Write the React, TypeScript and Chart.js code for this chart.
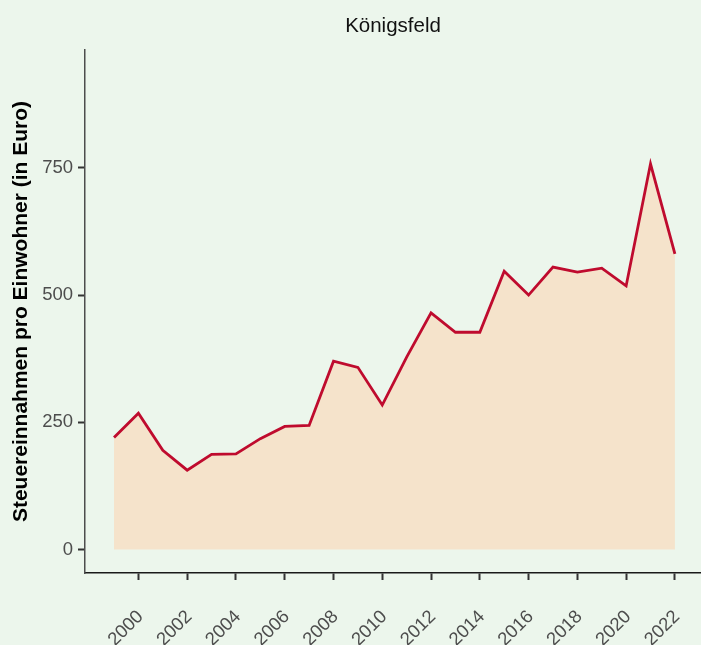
import React, { useEffect, useRef } from 'react';
import { Chart, registerables } from 'chart.js';

Chart.register(...registerables);

const years = [1999, 2000, 2001, 2002, 2003, 2004, 2005, 2006, 2007, 2008, 2009, 2010, 2011, 2012, 2013, 2014, 2015, 2016, 2017, 2018, 2019, 2020, 2021, 2022];
const values = [220, 268, 195, 156, 187, 188, 218, 242, 244, 370, 358, 284, 378, 465, 427, 427, 547, 500, 555, 545, 553, 518, 758, 581];
const xTickYears = [2000, 2002, 2004, 2006, 2008, 2010, 2012, 2014, 2016, 2018, 2020, 2022];
const yTickValues = [0, 250, 500, 750];
const chartTitle = 'Königsfeld';
const yAxisTitle = 'Steuereinnahmen pro Einwohner (in Euro)';

const BG = '#ECF6EC';
const FONT = '"Liberation Sans", Arial, Helvetica, sans-serif';

export default function App() {
  const ref = useRef<HTMLCanvasElement | null>(null);

  useEffect(() => {
    if (!ref.current) return;
    const bgPlugin = {
      id: 'bgFill',
      beforeDraw(chart: any) {
        const ctx = chart.ctx;
        ctx.save();
        ctx.fillStyle = BG;
        ctx.fillRect(0, 0, chart.width, chart.height);
        ctx.restore();
      },
    };
    const titlePlugin = {
      id: 'plotTitle',
      afterDraw(chart: any) {
        const { ctx, chartArea } = chart;
        ctx.save();
        ctx.font = `20.5px ${FONT}`;
        ctx.fillStyle = '#111';
        ctx.textAlign = 'center';
        ctx.textBaseline = 'alphabetic';
        ctx.fillText(chartTitle, (chartArea.left + chartArea.right) / 2, 32);
        ctx.restore();
      },
    };

    const chart = new Chart(ref.current, {
      type: 'line',
      data: {
        datasets: [
          {
            data: years.map((y, i) => ({ x: y, y: values[i] })),
            borderColor: '#BF0B2E',
            borderWidth: 2.8,
            backgroundColor: '#F5E3CB',
            fill: 'origin',
            pointRadius: 0,
            tension: 0,
          },
        ],
      },
      options: {
        animation: false,
        responsive: false,
        layout: { padding: { top: 50, left: 0, right: 0, bottom: 0 } },
        plugins: {
          legend: { display: false },
          title: { display: false },
          tooltip: { enabled: false },
        },
        scales: {
          x: {
            type: 'linear',
            min: 1997.81,
            max: 2023.07,
            afterBuildTicks: (s: any) => {
              s.ticks = xTickYears.map((v) => ({ value: v }));
            },
            afterFit: (s: any) => {
              s.height = 72;
              s.paddingLeft = 0;
              s.paddingRight = 0;
            },
            ticks: {
              autoSkip: false,
              minRotation: 45,
              maxRotation: 45,
              padding: 26,
              labelOffset: 2,
              color: '#4D4D4D',
              font: { family: FONT, size: 18.5 },
              callback: (v: any) => String(v),
            },
            grid: {
              display: true,
              drawOnChartArea: false,
              drawTicks: true,
              tickLength: 7,
              tickColor: '#333333',
              tickWidth: 2,
            },
            border: { display: true, color: '#1a1a1a', width: 1.5 },
          },
          y: {
            type: 'linear',
            min: -46,
            max: 981.5,
            afterBuildTicks: (s: any) => {
              s.ticks = yTickValues.map((v) => ({ value: v }));
            },
            afterFit: (s: any) => {
              s.width = 85;
              s.paddingTop = 0;
              s.paddingBottom = 0;
            },
            ticks: {
              padding: 5,
              color: '#4D4D4D',
              font: { family: FONT, size: 18.5 },
              callback: (v: any) => String(v),
            },
            grid: {
              display: true,
              drawOnChartArea: false,
              drawTicks: true,
              tickLength: 7,
              tickColor: '#333333',
              tickWidth: 2,
            },
            border: { display: true, color: '#4D4D4D', width: 1.5 },
            title: {
              display: true,
              text: yAxisTitle,
              color: '#000',
              font: { family: FONT, size: 21, weight: 'bold' },
              padding: { top: 9, bottom: 0 },
            },
          },
        },
      },
      plugins: [bgPlugin, titlePlugin],
    } as any);

    return () => chart.destroy();
  }, []);

  return (
    <div style={{ position: 'absolute', left: 0, top: 0, width: 701, height: 645 }}>
      <canvas ref={ref} width={701} height={645} style={{ display: 'block' }} />
    </div>
  );
}
